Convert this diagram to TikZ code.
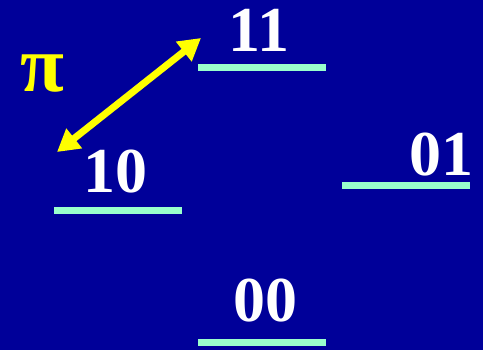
\documentclass[tikz,border=0pt]{standalone}
\usepackage{fontspec}
\setmainfont{Liberation Serif}
\usetikzlibrary{arrows.meta}
\definecolor{bgblue}{RGB}{0,0,153}
\definecolor{levelc}{RGB}{153,255,204}
\definecolor{arrowy}{RGB}{255,255,0}
\tikzset{
  level/.style={draw=levelc, line width=7pt},
  lab/.style={text=white, font=\bfseries\fontsize{64}{64}\selectfont, inner sep=0pt, anchor=base},
  pilab/.style={text=arrowy, font=\bfseries\fontsize{80}{80}\selectfont, inner sep=0pt},
  trans/.style={draw=arrowy, line width=7pt, {Triangle[length=22pt,width=24pt]}-{Triangle[length=22pt,width=24pt]}}
}
\begin{document}
\begin{tikzpicture}[x=1pt,y=-1pt]
\useasboundingbox[fill=bgblue] (0,0) rectangle (483,350);
% levels
\coordinate (l11a) at (198,68); \coordinate (l11b) at (326,68);
\coordinate (l10a) at (54,211); \coordinate (l10b) at (182,211);
\coordinate (l01a) at (342,186); \coordinate (l01b) at (470,186);
\coordinate (l00a) at (198,343); \coordinate (l00b) at (326,343);
\draw[level] (l11a) -- (l11b);
\draw[level] (l10a) -- (l10b);
\draw[level] (l01a) -- (l01b);
\draw[level] (l00a) -- (l00b);
% labels
\node[lab] (t11) at (259,52) {11};
\node[lab] (t10) at (115,193) {10};
\node[lab] (t01) at (441,176) {01};
\node[lab] (t00) at (265,322) {00};
\node[pilab] (pi) at (42,74) {π};
% arrow
\coordinate (ta) at (57,152);
\coordinate (tb) at (201,38);
\draw[trans] (ta) -- (tb);
\end{tikzpicture}
\end{document}
